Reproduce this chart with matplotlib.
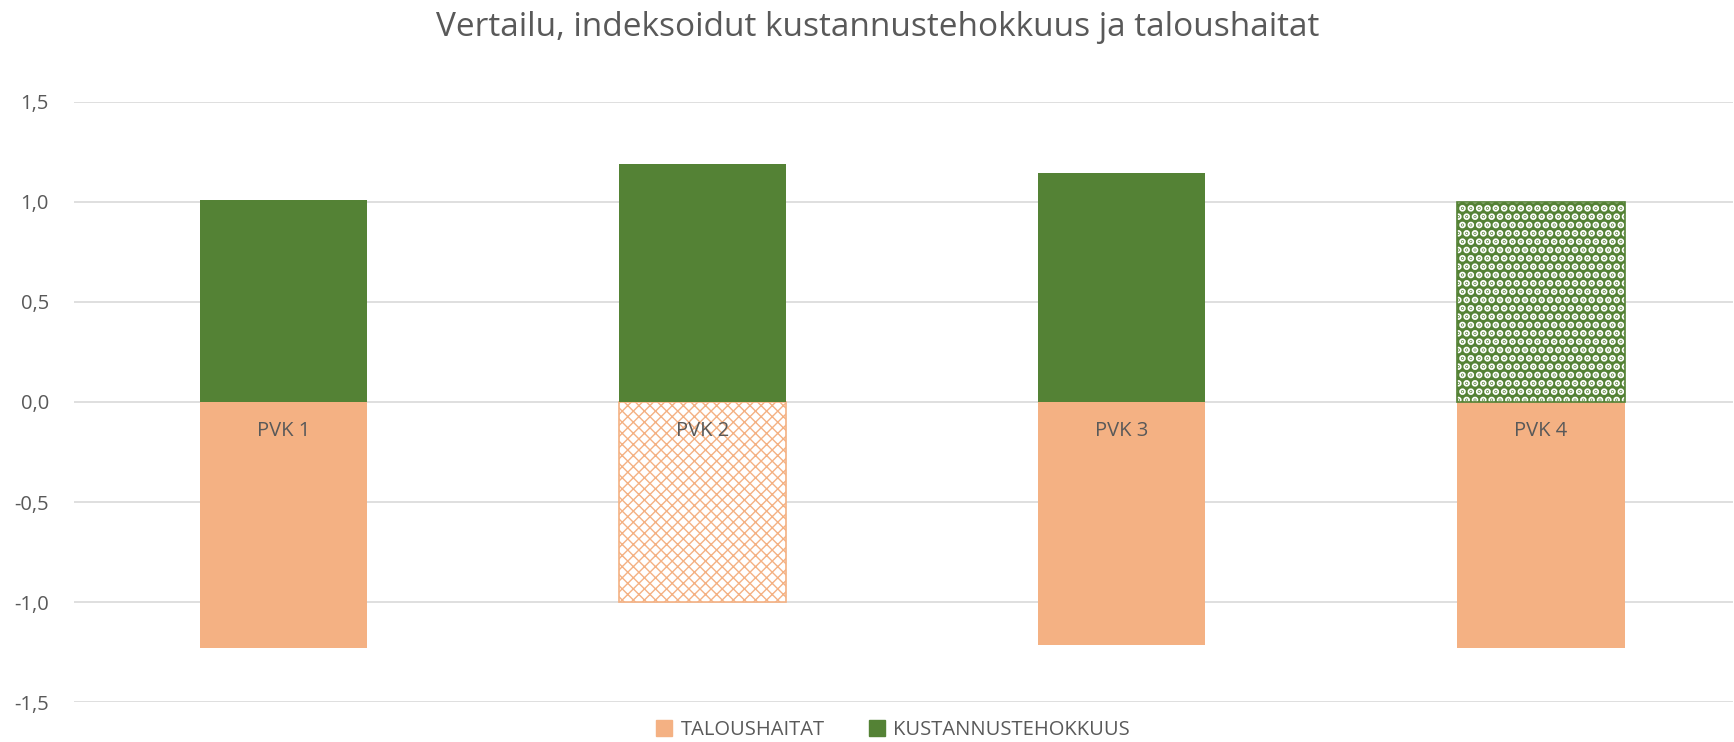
import matplotlib
matplotlib.use("Agg")
import matplotlib.pyplot as plt
from matplotlib.patches import Patch
import numpy as np

# ----------------------- Data --------------------------
categories = ["PVK 1", "PVK 2", "PVK 3", "PVK 4"]
kustannustehokkuus = [1.01, 1.19, 1.145, 1.00]
taloushaitat = [-1.23, -1.00, -1.215, -1.23]
y_ticks = [-1.5, -1.0, -0.5, 0.0, 0.5, 1.0, 1.5]

title = "Vertailu, indeksoidut kustannustehokkuus ja taloushaitat"
orange = "#F4B183"
green = "#548235"
text_grey = "#595959"

plt.rcParams['font.family'] = ['Open Sans', 'DejaVu Sans']

fig = plt.figure(figsize=(17.34, 7.42), dpi=100)
ax = fig.add_axes([0.0427, 0.0535, 0.957, 0.8095])

x = np.arange(len(categories))
width = 0.40

# ----------------------- Bars --------------------------
for i in range(len(categories)):
    if i == 1:
        b = ax.bar(x[i], taloushaitat[i], width, facecolor='white', edgecolor=orange,
                   hatch='xxx', linewidth=1.2, zorder=3)
    else:
        ax.bar(x[i], taloushaitat[i], width, color=orange, linewidth=0, zorder=3)

    if i == 3:
        b = ax.bar(x[i], kustannustehokkuus[i], width, facecolor=green, edgecolor='white',
                   hatch='..', linewidth=0, zorder=3)
        for p in b:
            if hasattr(p, 'set_hatch_linewidth'):
                p.set_hatch_linewidth(3.5)
        ax.bar(x[i], kustannustehokkuus[i], width, fill=False, edgecolor=green,
               linewidth=1.2, zorder=4)
    else:
        ax.bar(x[i], kustannustehokkuus[i], width, color=green, linewidth=0, zorder=3)

# category labels sit just under the zero line
for xi, name in zip(x, categories):
    ax.annotate(name, (xi, 0), xytext=(0, -21), textcoords='offset points',
                ha='center', va='center', fontsize=14.5, color=text_grey, zorder=5)

# ----------------------- Axes --------------------------
ax.set_xlim(-0.5, 3.46)
ax.set_ylim(-1.5, 1.5)
ax.set_yticks(y_ticks)
ax.set_yticklabels([("%.1f" % v).replace('.', ',') for v in y_ticks])
ax.tick_params(axis='y', length=0, pad=18, labelsize=14.5, labelcolor=text_grey)
ax.set_xticks([])
ax.yaxis.grid(True, color='#D9D9D9', linewidth=1.2, zorder=0)
ax.set_axisbelow(True)
for s in ax.spines.values():
    s.set_visible(False)

fig.text(0.506, 0.963, title, ha='center', va='center', fontsize=24, color=text_grey)

handles = [Patch(color=orange, label="TALOUSHAITAT"),
           Patch(color=green, label="KUSTANNUSTEHOKKUUS")]
fig.legend(handles=handles, loc='center', bbox_to_anchor=(0.515, 0.016), ncol=2,
           frameon=False, fontsize=14.5, labelcolor=text_grey, handlelength=0.8,
           handleheight=0.8, handletextpad=0.4, columnspacing=2.2)

fig.savefig("out.png", dpi=100)
